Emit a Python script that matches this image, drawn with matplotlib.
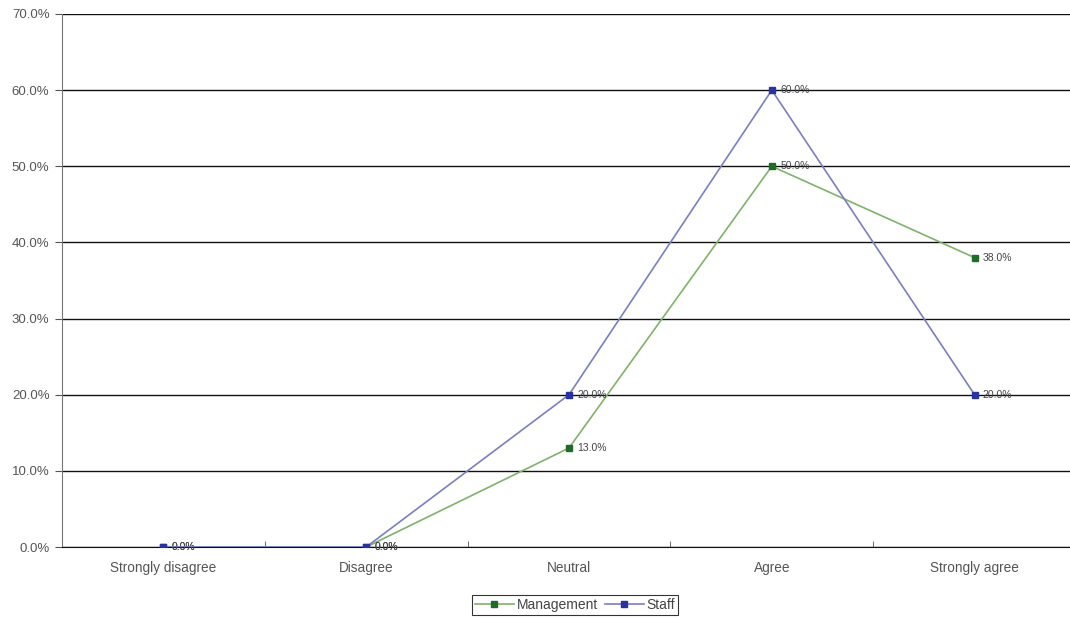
import matplotlib
matplotlib.use("Agg")
import matplotlib.pyplot as plt
from matplotlib.ticker import FuncFormatter, MultipleLocator, FixedLocator

categories = ["Strongly disagree", "Disagree", "Neutral", "Agree", "Strongly agree"]
management = [0.0, 0.0, 13.0, 50.0, 38.0]
staff = [0.0, 0.0, 20.0, 60.0, 20.0]

plt.rcParams['font.family'] = ['Liberation Sans', 'DejaVu Sans']

fig = plt.figure(figsize=(10.7, 6.19), dpi=100)
# plot area runs slightly past the right edge of the canvas
ax = fig.add_axes([62 / 1070, 72 / 619, 1014 / 1070, 533 / 619])

x = list(range(len(categories)))
ax.plot(x, management, color="#7fb26a", lw=1.2, marker="s", ms=5,
        mfc="#1f6b2a", mec="#1f6b2a", label="Management", zorder=3)
ax.plot(x, staff, color="#7a7ec0", lw=1.2, marker="s", ms=5,
        mfc="#2a31a0", mec="#2a31a0", label="Staff", zorder=4)

for xi, v in zip(x, management):
    ax.annotate(f"{v:.1f}%", (xi, v), xytext=(6, 0), textcoords="offset points",
                va="center", ha="left", fontsize=7.5, color="#444444")
for xi, v in zip(x, staff):
    ax.annotate(f"{v:.1f}%", (xi, v), xytext=(6, 0), textcoords="offset points",
                va="center", ha="left", fontsize=7.5, color="#444444")

ax.set_xlim(-0.5, len(categories) - 0.5)
ax.set_ylim(0, 70)
ax.yaxis.set_major_locator(MultipleLocator(10))
ax.yaxis.set_major_formatter(FuncFormatter(lambda v, p: f"{v:.1f}%"))
ax.set_xticks(x)
ax.set_xticklabels(categories)
ax.xaxis.set_minor_locator(FixedLocator([i + 0.5 for i in x[:-1]]))
ax.tick_params(axis="x", which="major", length=0, pad=10, labelsize=9.8, colors="#555555")
ax.tick_params(axis="x", which="minor", length=4, color="#555555", direction="in")
ax.tick_params(axis="y", length=5, color="#555555", labelsize=9.5, labelcolor="#555555", pad=4)

ax.grid(axis="y", color="#111111", lw=1.0)
ax.set_axisbelow(True)
for s in ["top", "right"]:
    ax.spines[s].set_visible(False)
ax.spines["left"].set_color("#777777")
ax.spines["bottom"].set_color("#111111")

leg = fig.legend(loc="center", bbox_to_anchor=(575 / 1070, 1 - 605 / 619), ncol=2, fontsize=10,
                 frameon=True, fancybox=False, edgecolor="black", handlelength=2.8,
                 handletextpad=0.2, columnspacing=0.5, borderpad=0.2, labelcolor="#444444")
leg.get_frame().set_linewidth(0.8)

fig.savefig("out.png", dpi=100)
